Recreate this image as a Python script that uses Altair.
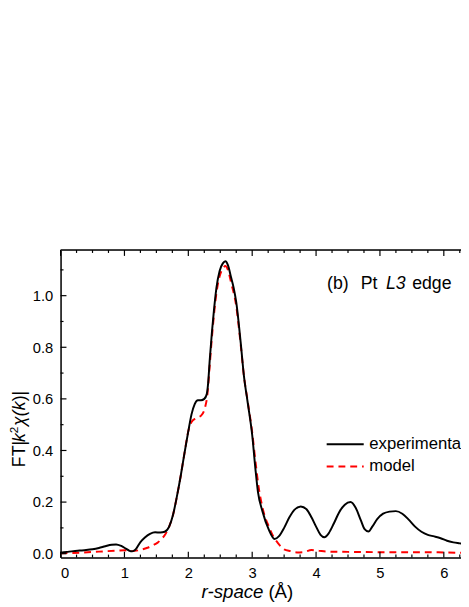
import altair as alt
import pandas as pd

# ---------------- data ----------------
exp_r = [0.00, 0.10, 0.20, 0.30, 0.40, 0.50, 0.60, 0.70, 0.80, 0.87, 0.95, 1.02, 1.08, 1.12,
         1.17, 1.25, 1.32, 1.40, 1.48, 1.56, 1.63, 1.70, 1.76, 1.82, 1.88, 1.94, 2.00, 2.05,
         2.10, 2.15, 2.20, 2.25, 2.29, 2.31, 2.335, 2.37, 2.40, 2.44, 2.49, 2.54, 2.58, 2.62,
         2.67, 2.71, 2.75, 2.82, 2.87, 2.93, 3.00, 3.05, 3.09, 3.16, 3.26, 3.35, 3.42, 3.50,
         3.58, 3.66, 3.76, 3.85, 3.93, 4.00, 4.07, 4.13, 4.20, 4.28, 4.36, 4.45, 4.54, 4.62,
         4.70, 4.76, 4.82, 4.88, 4.96, 5.05, 5.15, 5.25, 5.35, 5.45, 5.55, 5.65, 5.75, 5.85,
         5.95, 6.05, 6.15, 6.25, 6.30]
exp_ft = [0.004, 0.007, 0.010, 0.012, 0.014, 0.017, 0.022, 0.029, 0.035, 0.036, 0.030, 0.020,
          0.011, 0.009, 0.015, 0.045, 0.063, 0.077, 0.083, 0.082, 0.085, 0.105, 0.150, 0.220,
          0.300, 0.390, 0.475, 0.540, 0.580, 0.595, 0.595, 0.600, 0.620, 0.660, 0.750, 0.860,
          0.940, 1.030, 1.096, 1.125, 1.133, 1.118, 1.070, 1.030, 0.975, 0.818, 0.690, 0.585,
          0.460, 0.330, 0.240, 0.165, 0.093, 0.057, 0.068, 0.100, 0.140, 0.170, 0.183, 0.172,
          0.140, 0.105, 0.073, 0.064, 0.080, 0.118, 0.160, 0.190, 0.200, 0.178, 0.130, 0.095,
          0.086, 0.105, 0.135, 0.155, 0.163, 0.165, 0.155, 0.132, 0.105, 0.085, 0.073, 0.067,
          0.060, 0.050, 0.044, 0.040, 0.038]

mod_r = [0.00, 0.30, 0.60, 0.90, 1.00, 1.12, 1.25, 1.36, 1.45, 1.52, 1.58, 1.64, 1.70, 1.76,
         1.82, 1.88, 1.94, 2.00, 2.05, 2.12, 2.20, 2.26, 2.30, 2.335, 2.37, 2.44, 2.49, 2.54,
         2.58, 2.62, 2.67, 2.75, 2.82, 2.87, 2.93, 3.00, 3.05, 3.10, 3.16, 3.26, 3.33, 3.40,
         3.50, 3.60, 3.70, 3.80, 3.93, 4.05, 4.20, 4.50, 5.00, 5.50, 6.00, 6.30]
mod_ft = [0.002, 0.004, 0.008, 0.012, 0.013, 0.010, 0.015, 0.023, 0.033, 0.043, 0.057, 0.075,
          0.105, 0.150, 0.220, 0.300, 0.390, 0.475, 0.510, 0.525, 0.535, 0.565, 0.620, 0.730,
          0.840, 1.010, 1.075, 1.105, 1.115, 1.100, 1.050, 0.960, 0.810, 0.690, 0.590, 0.470,
          0.360, 0.260, 0.180, 0.105, 0.067, 0.042, 0.017, 0.010, 0.005, 0.006, 0.014, 0.011,
          0.008, 0.007, 0.006, 0.006, 0.005, 0.003]

x_major = [0, 1, 2, 3, 4, 5, 6]
x_minor = [0.25, 0.5, 0.75, 1.25, 1.5, 1.75, 2.25, 2.5, 2.75, 3.25, 3.5, 3.75, 4.25, 4.5,
           4.75, 5.25, 5.5, 5.75, 6.25]
y_major = [0.0, 0.2, 0.4, 0.6, 0.8, 1.0]
y_minor = [0.1, 0.3, 0.5, 0.7, 0.9, 1.1]

series_names = ["experimental", "model"]

# ---------------- layout ----------------
W, H = 407.5, 313
FONT = "Liberation Sans"
xs = alt.Scale(domain=[0, 6.269], nice=False, zero=False)
ys = alt.Scale(domain=[-0.015, 1.177], nice=False, zero=False)

x_axis = alt.Axis(values=x_major, format="d", ticks=False, grid=False,
                  domainColor="black", domainWidth=1.5,
                  labelFont=FONT, labelFontSize=15, labelColor="black",
                  labelPadding=8, title=None)
y_axis = alt.Axis(values=y_major, format=".1f", ticks=False, grid=False,
                  domainColor="black", domainWidth=1.5,
                  labelFont=FONT, labelFontSize=15, labelColor="black",
                  labelPadding=8, title=None)

X = alt.X("r:Q", scale=xs, axis=x_axis)
Y = alt.Y("ft:Q", scale=ys, axis=y_axis)

exp_df = pd.DataFrame({"r": exp_r, "ft": exp_ft})
mod_df = pd.DataFrame({"r": mod_r, "ft": mod_ft})

exp_line = alt.Chart(exp_df).mark_line(color="black", strokeWidth=2, interpolate="monotone",
                                       clip=True).encode(x=X, y=Y)
mod_line = alt.Chart(mod_df).mark_line(color="#ff0000", strokeWidth=2, strokeDash=[7, 5],
                                       interpolate="monotone", clip=True).encode(x=X, y=Y)


def xticks(vals, length):
    d = pd.DataFrame({"r": vals})
    bot = alt.Chart(d).mark_rule(color="black", strokeWidth=1.2).encode(
        x=X, y=alt.value(H), y2=alt.value(H - length))
    top = alt.Chart(d).mark_rule(color="black", strokeWidth=1.2).encode(
        x=X, y=alt.value(0), y2=alt.value(length))
    return bot + top


def yticks(vals, length):
    d = pd.DataFrame({"ft": vals})
    return alt.Chart(d).mark_rule(color="black", strokeWidth=1.2).encode(
        y=Y, x=alt.value(0), x2=alt.value(length))


one = pd.DataFrame({"a": [0]})
top_border = alt.Chart(one).mark_rule(color="black", strokeWidth=1.5).encode(
    x=alt.value(0), x2=alt.value(W), y=alt.value(0))


def txt(s, x, y, size=17, style="normal", align="left", angle=0, color="black"):
    return alt.Chart(one).mark_text(text=s, font=FONT, fontSize=size, fontStyle=style,
                                     align=align, baseline="middle", angle=angle,
                                     color=color).encode(x=alt.value(x), y=alt.value(y))


# x title: "r-space (Å)"
xtitle = txt("r-space", 206.5, 348, size=19, style="italic", align="right") + \
         txt("(Å)", 211.5, 348, size=19)

# y title: FT|k²χ(k)| rotated, reading bottom to top
yx = -41.5
ytitle = (txt("FT|", yx, 221, size=18, angle=270) +
          txt("k", yx, 195.5, size=18, style="italic", angle=270) +
          txt("2", yx - 5.5, 186.5, size=12, angle=270) +
          txt("χ(", yx, 179, size=18, style="italic", angle=270) +
          txt("k", yx, 163, size=18, style="italic", angle=270) +
          txt(")|", yx, 154, size=18, angle=270))

# annotation
annot = (txt("(b)", 271.2, 34.3, size=18) + txt("Pt", 305.5, 34.3, size=18) +
         txt("L3", 331.2, 34.3, size=18, style="italic") + txt("edge", 357.8, 34.3, size=18))

# legend
leg_line1 = alt.Chart(one).mark_rule(color="black", strokeWidth=2).encode(
    x=alt.value(270.8), x2=alt.value(308.5), y=alt.value(197.7))
leg_line2 = alt.Chart(one).mark_rule(color="#ff0000", strokeWidth=2, strokeDash=[7, 5]).encode(
    x=alt.value(270.8), x2=alt.value(308.5), y=alt.value(220.3))
legend = leg_line1 + leg_line2 + txt(series_names[0], 314.2, 197.7) + txt(series_names[1], 314.2, 220.3)

chart = alt.layer(
    mod_line, exp_line, top_border,
    xticks(x_major, 6), xticks(x_minor, 3), yticks(y_major, 6), yticks(y_minor, 3),
    xtitle, ytitle, annot, legend
).properties(
    width=W, height=H,
    autosize=alt.AutoSizeParams(type="none"),
    padding={"left": 53.5, "top": 241, "right": 0, "bottom": 43},
).configure_view(stroke=None).configure(background="white")

chart.save("out.html", embed_options={"renderer": "svg", "actions": False})
